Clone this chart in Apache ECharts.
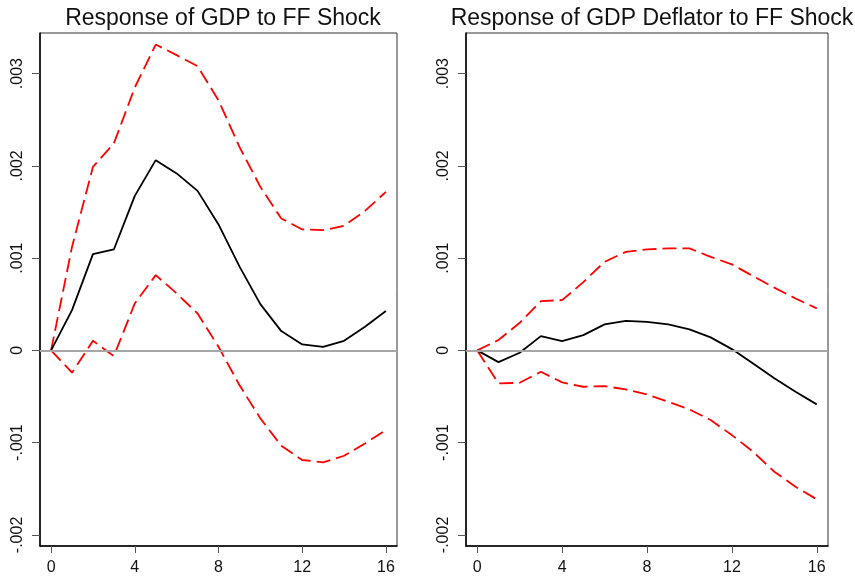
<!DOCTYPE html>
<html>
<head>
<meta charset="utf-8">
<script src="https://cdn.jsdelivr.net/npm/echarts@6/dist/echarts.min.js"></script>
<style>html,body{margin:0;padding:0;background:#fff;}#c{width:855px;height:579px;}</style>
</head>
<body>
<div id="c"></div>
<script>
var horizons = [0,1,2,3,4,5,6,7,8,9,10,11,12,13,14,15,16];
var xTicks = [0,4,8,12,16];
var yTicks = [-0.002,-0.001,0,0.001,0.002,0.003];
var titles = ['Response of GDP to FF Shock', 'Response of GDP Deflator to FF Shock'];

var gdpIrf   = [0,0.000437,0.001043,0.001094,0.001675,0.002062,0.001918,0.001729,0.001365,0.000910,0.000502,0.000209,0.000065,0.000039,0.000104,0.000256,0.000426];
var gdpUpper = [0,0.001122,0.001989,0.002243,0.002850,0.003315,0.003200,0.003080,0.002710,0.002206,0.001773,0.001430,0.001311,0.001303,0.001350,0.001512,0.001718];
var gdpLower = [0,-0.000242,0.000104,-0.000062,0.000509,0.000816,0.000617,0.000400,0.000039,-0.000376,-0.000737,-0.001033,-0.001188,-0.001214,-0.001142,-0.001008,-0.000864];

var defIrf   = [0,-0.000127,-0.000025,0.000155,0.000101,0.000166,0.000282,0.000321,0.000310,0.000282,0.000228,0.000141,0.000014,-0.000141,-0.000303,-0.000449,-0.000585];
var defUpper = [0,0.000112,0.000299,0.000534,0.000545,0.000740,0.000960,0.001068,0.001094,0.001105,0.001105,0.001014,0.000932,0.000805,0.000680,0.000563,0.000455];
var defLower = [0,-0.000358,-0.000351,-0.000232,-0.000347,-0.000394,-0.000387,-0.000423,-0.000477,-0.000557,-0.000639,-0.000755,-0.000918,-0.001099,-0.001315,-0.001478,-0.001614];

function pairs(vals){ return horizons.map(function(t,i){ return [t, vals[i]]; }); }
function fmtY(v){
  if (Math.abs(v) < 1e-12) return '0';
  var s = Math.abs(v).toFixed(3).replace(/^0/, '');
  return (v < 0 ? '-' : '') + s;
}
var FONT = 'Liberation Sans';
function xAxis(gi){
  return {
    type:'value', gridIndex:gi, min:-0.53, max:16.53,
    axisLine:{show:true, onZero:false, lineStyle:{color:'#000', width:1.5}},
    axisTick:{show:true, length:7, customValues:xTicks, lineStyle:{color:'#555', width:1}},
    axisLabel:{customValues:xTicks, fontFamily:FONT, fontSize:16, color:'#111', margin:14},
    splitLine:{show:false}
  };
}
function yAxis(gi){
  return {
    type:'value', gridIndex:gi, min:-0.00212, max:0.00344,
    axisLine:{show:true, onZero:false, lineStyle:{color:'#000', width:1.5}},
    axisTick:{show:true, length:8, customValues:yTicks, lineStyle:{color:'#555', width:1}},
    axisLabel:{customValues:yTicks, formatter:fmtY, rotate:90, fontFamily:FONT, fontSize:16, color:'#111', margin:14},
    splitLine:{show:false}
  };
}
function lineSeries(gi, vals, color, dashed, withZero){
  var s = {
    type:'line', xAxisIndex:gi, yAxisIndex:gi, data:pairs(vals),
    showSymbol:false, symbol:'none', silent:true, animation:false,
    lineStyle:{color:color, width:1.8, type: dashed ? [14,6] : 'solid'},
    z: dashed ? 3 : 4
  };
  if (withZero) {
    s.markLine = {
      silent:true, symbol:['none','none'], label:{show:false}, animation:false,
      lineStyle:{color:'#a6a6a6', width:2, type:'solid'},
      data:[{yAxis:0}]
    };
  }
  return s;
}
var chart = echarts.init(document.getElementById('c'), null, {renderer:'canvas'});
chart.setOption({
  backgroundColor:'#fff',
  animation:false,
  title:[
    {text:titles[0], left:218, top:2, textAlign:'center', textStyle:{fontFamily:FONT, fontSize:23, fontWeight:'normal', color:'#111'}},
    {text:titles[1], left:647, top:2, textAlign:'center', textStyle:{fontFamily:FONT, fontSize:23, fontWeight:'normal', color:'#111'}}
  ],
  grid:[
    {left:40, top:33, width:357, height:513, show:true, borderColor:'#333', borderWidth:1, backgroundColor:'#fff'},
    {left:466, top:33, width:362, height:513, show:true, borderColor:'#333', borderWidth:1, backgroundColor:'#fff'}
  ],
  xAxis:[xAxis(0), xAxis(1)],
  yAxis:[yAxis(0), yAxis(1)],
  series:[
    lineSeries(0, gdpIrf, '#000', false, true),
    lineSeries(0, gdpUpper, '#ff0000', true, false),
    lineSeries(0, gdpLower, '#ff0000', true, false),
    lineSeries(1, defIrf, '#000', false, true),
    lineSeries(1, defUpper, '#ff0000', true, false),
    lineSeries(1, defLower, '#ff0000', true, false)
  ]
});
</script>
</body>
</html>
